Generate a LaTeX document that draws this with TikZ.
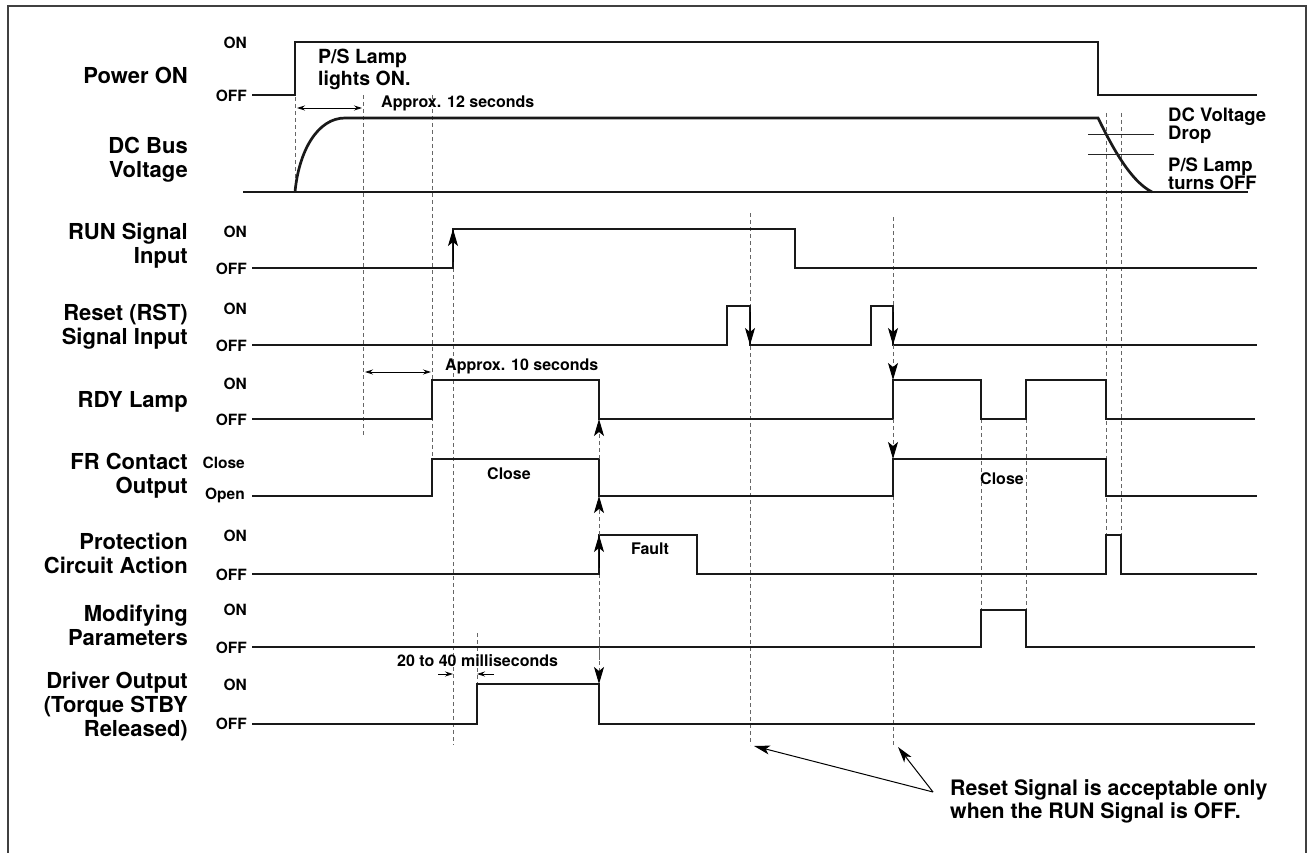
\documentclass[tikz,border=0pt]{standalone}
\usepackage{fontspec}
\setmainfont{TeX Gyre Heros}
\usetikzlibrary{arrows.meta}
\begin{document}
\begin{tikzpicture}[x=1pt,y=-1pt,
  sig/.style={line width=2.7pt, line join=miter, color=black!90},
  dline/.style={line width=0.9pt, color=black!60, dash pattern=on 4pt off 3pt},
  thin/.style={line width=1pt, color=black!85},
  bigtip/.style={line width=1pt, -{Stealth[length=17pt,width=10pt,inset=4pt]}},
  dtip/.style={dline, -{Stealth[length=17pt,width=10pt,inset=4pt,black]}},
  smalldbl/.style={line width=0.8pt, {Stealth[length=8pt,width=5pt]}-{Stealth[length=8pt,width=5pt]}},
  smalltip/.style={line width=0.8pt, -{Stealth[length=8pt,width=5pt]}},
  antip/.style={line width=1pt, -{Stealth[length=16pt,width=9pt,inset=4pt]}},
  lab/.style={anchor=east, align=right, inner sep=0pt, font=\fontsize{22}{24}\selectfont\bfseries},
  lvl/.style={anchor=east, inner sep=0pt, font=\fontsize{15.5}{17}\selectfont\bfseries},
  note/.style={anchor=west, align=left, inner sep=0pt, font=\fontsize{16}{18}\selectfont\bfseries},
  mid/.style={inner sep=0pt, font=\fontsize{16}{18}\selectfont\bfseries}]
\useasboundingbox (0,0) rectangle (1311,853);
% frame
\draw[line width=2pt, color=black!75] (8,853) -- (8,6) -- (1306,6) -- (1306,853);

% signal labels
\node[lab] (lpow) at (188,75) {Power ON};
\node[lab] (ldc) at (188,160) {DC Bus\\Voltage};
\node[lab] (lrun) at (188,245.5) {RUN Signal\\Input};
\node[lab] (lrst) at (188,326.5) {Reset (RST)\\Signal Input};
\node[lab] (lrdy) at (188,402) {RDY Lamp};
\node[lab] (lfr) at (188,475.5) {FR Contact\\Output};
\node[lab] (lpro) at (188,553) {Protection\\Circuit Action};
\node[lab] (lmod) at (188,625) {Modifying\\Parameters};
\node[lab] (ldrv) at (188,706) {Driver Output\\(Torque STBY\\Released)};

% level labels
\node[lvl] (pon) at (247,43) {ON};  \node[lvl] (poff) at (247,96) {OFF};
\node[lvl] (ron) at (247,232) {ON}; \node[lvl] (roff) at (247,269) {OFF};
\node[lvl] (son) at (247,309) {ON}; \node[lvl] (soff) at (247,346) {OFF};
\node[lvl] (yon) at (247,384) {ON}; \node[lvl] (yoff) at (247,420) {OFF};
\node[lvl] (fon) at (245,463) {Close}; \node[lvl] (foff) at (245,495) {Open};
\node[lvl] (con) at (247,536) {ON}; \node[lvl] (coff) at (247,575) {OFF};
\node[lvl] (mon) at (247,610) {ON}; \node[lvl] (moff) at (247,648) {OFF};
\node[lvl] (don) at (247,685) {ON}; \node[lvl] (doff) at (247,724) {OFF};

% dashed guide lines
\draw[dline] (295,97) -- (295,192);
\draw[dline] (363,95) -- (363,435);
\draw[dline] (432,95) -- (432,458);
\draw[dline] (453,268) -- (453,745);
\draw[dline] (750,213) -- (750,745);
\draw[dline] (893,217) -- (893,345);
\draw[dline] (893,496) -- (893,745);
\draw[dline] (599,574) -- (599,660);
\draw[dline] (477,633) -- (477,684);
\draw[dline] (981,419) -- (981,610);
\draw[dline] (1026,419) -- (1026,610);
\draw[dline] (1106,113) -- (1106,535);
\draw[dline] (1121,113) -- (1121,535);

% signals
\draw[sig] (252,95) -- (295,95) -- (295,42) -- (1098,42) -- (1098,95) -- (1257,95);
\draw[sig] (243,192) -- (1248,192);
\draw[sig] (295,192) .. controls (299,150) and (318,118) .. (345,118) -- (1098,118)
  .. controls (1108,138) and (1128,180) .. (1152,192);
\draw[sig] (252,268) -- (453,268) -- (453,229) -- (795,229) -- (795,268) -- (1257,268);
\draw[sig] (252,345) -- (727,345) -- (727,306) -- (750,306) -- (750,345) -- (871,345)
  -- (871,306) -- (893,306) -- (893,345) -- (1257,345);
\draw[sig] (252,419) -- (432,419) -- (432,380) -- (599,380) -- (599,419) -- (893,419)
  -- (893,380) -- (981,380) -- (981,419) -- (1026,419) -- (1026,380) -- (1106,380)
  -- (1106,419) -- (1255,419);
\draw[sig] (252,496) -- (432,496) -- (432,459) -- (599,459) -- (599,496) -- (893,496)
  -- (893,459) -- (1106,459) -- (1106,496) -- (1257,496);
\draw[sig] (252,574) -- (599,574) -- (599,535) -- (697,535) -- (697,574) -- (1106,574)
  -- (1106,535) -- (1121,535) -- (1121,574) -- (1257,574);
\draw[sig] (252,647) -- (981,647) -- (981,610) -- (1026,610) -- (1026,647) -- (1255,647);
\draw[sig] (252,724) -- (477,724) -- (477,684) -- (599,684) -- (599,724) -- (1255,724);

% DC voltage drop marks
\draw[thin] (1088,135) -- (1154,135);
\draw[thin] (1088,155) -- (1154,155);

% edge arrowheads
\draw[bigtip] (453,262) -- (453,229);
\draw[bigtip] (750,312) -- (750,345);
\draw[bigtip] (893,312) -- (893,345);
\draw[dtip] (893,345) -- (893,380);
\draw[dtip] (893,419) -- (893,459);
\draw[dtip] (599,459) -- (599,419);
\draw[dtip] (599,535) -- (599,496);
\draw[bigtip] (599,568) -- (599,535);
\draw[dtip] (599,640) -- (599,684);

% timing arrows
\draw[smalldbl] (297,108) -- (362,108);
\draw[smalldbl] (365,372) -- (431,372);
\draw[smalltip] (438,674) -- (453,674);
\draw[smalltip] (494,674) -- (477,674);

% texts
\node[note, font=\fontsize{19.5}{22}\selectfont\bfseries] (pslamp) at (318,69) {P/S Lamp\\lights ON.};
\node[note] (ap12) at (381,103) {Approx. 12 seconds};
\node[note] (ap10) at (445,366) {Approx. 10 seconds};
\node[note] (ms) at (397,661) {20 to 40 milliseconds};
\node[mid] (close1) at (509,474) {Close};
\node[mid] (close2) at (1002,479) {Close};
\node[mid] (fault) at (650,549) {Fault};
\node[note, font=\fontsize{18.5}{18}\selectfont\bfseries] (dcdrop) at (1168,126) {DC Voltage\\Drop};
\node[note, font=\fontsize{18.5}{18}\selectfont\bfseries] (psoff) at (1168,174) {P/S Lamp\\turns OFF};
\node[note, font=\fontsize{21.3}{23}\selectfont\bfseries] (reset) at (950,801.5) {Reset Signal is acceptable only\\when the RUN Signal is OFF.};

% annotation arrows
\coordinate (apex) at (933,792);
\coordinate (t1) at (754,746);
\coordinate (t2) at (898,747);
\draw[antip] (apex) -- (t1);
\draw[antip] (apex) -- (t2);
\end{tikzpicture}
\end{document}
